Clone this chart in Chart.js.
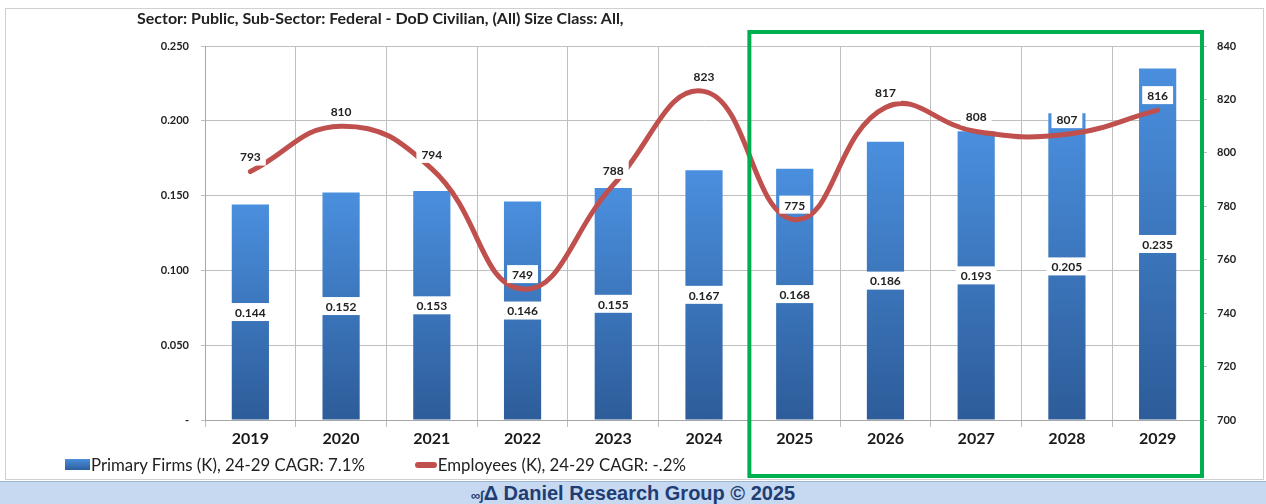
<!DOCTYPE html>
<html>
<head>
<meta charset="utf-8">
<script src="https://cdn.jsdelivr.net/npm/chart.js@4.4.1/dist/chart.umd.min.js"></script>
<style>
  body { margin: 0; background: #fff; }
  #wrap { position: relative; width: 1266px; height: 504px; overflow: hidden; font-family: Lato, sans-serif; }
  #frame { position: absolute; left: 5px; top: 8px; width: 1259px; height: 472px; border: 1px solid #d0d0d0; box-sizing: border-box; }
  #titulo { position: absolute; left: 137px; top: 8px; font-weight: bold; font-size: 16px; color: #222; }
  #legenda { position: absolute; left: 65px; top: 454px; font-size: 16.8px; color: #222; display: flex; align-items: center; }
  #legenda span.item { display: flex; align-items: center; margin-right: 50px; }
  .caixa { width: 25px; height: 11px; background: linear-gradient(#4a8edc, #2d5e9c); margin-right: 1px; }
  .linha { width: 22px; height: 6px; border-radius: 3px; background: #c0504d; margin-right: 1px; }
  #rodape { position: absolute; left: 0; top: 481px; width: 1266px; height: 23px; background: #c6d9f1; border-top: 1px solid #9db6d6;
            text-align: center; font-family: "Liberation Sans", Arial, sans-serif; font-weight: bold; font-size: 20px; line-height: 23px; color: #1f3d73; }
  #rodape small { font-size: 13px; }
  canvas { position: absolute; left: 0; top: 0; }
</style>
</head>
<body>
<div id="wrap">
  <div id="frame"></div>
  <canvas id="myChart" width="1266" height="504"></canvas>
  <div id="titulo">Sector: Public, Sub-Sector: Federal - DoD Civilian, (All) Size Class: All,</div>
  <div id="legenda"></div>
  <div id="rodape"><small>∞∫</small>Δ Daniel Research Group © 2025</div>
</div>
<script>
var anos = ["2019", "2020", "2021", "2022", "2023", "2024", "2025", "2026", "2027", "2028", "2029"]
var firmas = [0.144, 0.152, 0.153, 0.146, 0.155, 0.167, 0.168, 0.186, 0.193, 0.205, 0.235]
var empregados = [793, 810, 794, 749, 788, 823, 775, 817, 808, 807, 816]
var rotuloFirmas = "Primary Firms (K), 24-29 CAGR: 7.1%"
var rotuloEmpregados = "Employees (K), 24-29 CAGR: -.2%"
var inicioDestaque = "2025"

// legenda em html
var legenda = document.getElementById("legenda")
legenda.innerHTML = '<span class="item"><span class="caixa"></span>' + rotuloFirmas + '</span>' +
  '<span class="item"><span class="linha"></span>' + rotuloEmpregados + '</span>'

function corBarra(context) {
  var chart = context.chart
  if (!chart.chartArea || context.parsed == null) return "#3a75c0"
  var y = chart.scales.y
  var topo = y.getPixelForValue(context.parsed.y)
  var base = y.getPixelForValue(0)
  var g = chart.ctx.createLinearGradient(0, topo, 0, base)
  g.addColorStop(0, "#4a8fde")
  g.addColorStop(1, "#2d5c99")
  return g
}

var pluginRotulos = {
  id: "rotulos",
  afterDatasetsDraw: function (chart) {
    var ctx = chart.ctx
    ctx.save()
    ctx.font = "bold 12px Lato"
    ctx.textAlign = "center"
    ctx.textBaseline = "middle"
    var barras = chart.getDatasetMeta(1).data
    barras.forEach(function (el, i) {
      var txt = firmas[i].toFixed(3)
      var yc = (el.y + el.base) / 2
      var w = ctx.measureText(txt).width + 10
      ctx.fillStyle = "#fff"
      ctx.fillRect(el.x - w / 2, yc - 9, w, 18)
      ctx.fillStyle = "#222"
      ctx.fillText(txt, el.x, yc + 1)
    })
    var pontos = chart.getDatasetMeta(0).data
    pontos.forEach(function (el, i) {
      var txt = String(empregados[i])
      var yc = el.y - 15
      var w = ctx.measureText(txt).width + 10
      ctx.fillStyle = "#fff"
      ctx.fillRect(el.x - w / 2, yc - 9, w, 18)
      ctx.fillStyle = "#222"
      ctx.fillText(txt, el.x, yc + 1)
    })
    // caixa verde de destaque
    var x = chart.scales.x
    var idx = anos.indexOf(inicioDestaque)
    var esq = (x.getPixelForValue(idx - 1) + x.getPixelForValue(idx)) / 2
    var area = chart.chartArea
    ctx.strokeStyle = "#00b050"
    ctx.lineWidth = 4
    ctx.strokeRect(esq, area.top - 14, area.right - esq - 1, area.bottom - area.top + 70)
    ctx.restore()
  }
}

new Chart(document.getElementById("myChart"), {
  type: "bar",
  data: {
    labels: anos,
    datasets: [{
      type: "line",
      label: rotuloEmpregados,
      data: empregados,
      yAxisID: "y1",
      borderColor: "#c0504d",
      borderWidth: 5,
      tension: 0.45,
      pointRadius: 0,
      borderCapStyle: "round",
      order: 0
    }, {
      type: "bar",
      label: rotuloFirmas,
      data: firmas,
      yAxisID: "y",
      backgroundColor: corBarra,
      barPercentage: 0.41,
      categoryPercentage: 1,
      order: 1
    }]
  },
  options: {
    responsive: false,
    animation: false,
    layout: { padding: { top: 46, bottom: 54, left: 0, right: 0 } },
    plugins: { legend: { display: false }, tooltip: { enabled: false } },
    scales: {
      x: {
        grid: { color: "#bfbfbf", tickLength: 7, offset: true },
        border: { color: "#a6a6a6" },
        ticks: { font: { family: "Lato", weight: "bold", size: 16 }, color: "#1a1a1a", padding: 2 },
        afterFit: function (s) { s.height = 30 }
      },
      y: {
        position: "left",
        min: 0, max: 0.25,
        ticks: {
          stepSize: 0.05,
          font: { family: "Lato", weight: "bold", size: 11 }, color: "#222", padding: 12,
          callback: function (v) { return v == 0 ? "-" : v.toFixed(3) }
        },
        grid: { color: "#bfbfbf", tickLength: 4 },
        border: { color: "#a6a6a6" },
        afterFit: function (s) { s.width = 205 }
      },
      y1: {
        position: "right",
        min: 700, max: 840,
        ticks: { stepSize: 20, font: { family: "Lato", weight: "bold", size: 11 }, color: "#222", padding: 10 },
        grid: { drawOnChartArea: false, color: "#bfbfbf", tickLength: 4 },
        border: { color: "#bfbfbf" },
        afterFit: function (s) { s.width = 63 }
      }
    }
  },
  plugins: [pluginRotulos]
})
</script>
</body>
</html>
